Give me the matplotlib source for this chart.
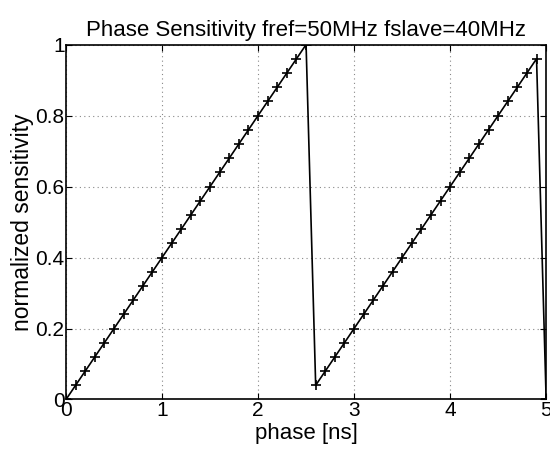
import matplotlib
matplotlib.use("Agg")
import matplotlib.pyplot as plt

# phase samples [ns] and normalized sensitivity
phase = [0.0, 0.1, 0.2, 0.3, 0.4, 0.5, 0.6, 0.7, 0.8, 0.9,
         1.0, 1.1, 1.2, 1.3, 1.4, 1.5, 1.6, 1.7, 1.8, 1.9,
         2.0, 2.1, 2.2, 2.3, 2.4, 2.5,
         2.6, 2.7, 2.8, 2.9, 3.0, 3.1, 3.2, 3.3, 3.4, 3.5,
         3.6, 3.7, 3.8, 3.9, 4.0, 4.1, 4.2, 4.3, 4.4, 4.5,
         4.6, 4.7, 4.8, 4.9, 5.0]
sens = [0.00, 0.04, 0.08, 0.12, 0.16, 0.20, 0.24, 0.28, 0.32, 0.36,
        0.40, 0.44, 0.48, 0.52, 0.56, 0.60, 0.64, 0.68, 0.72, 0.76,
        0.80, 0.84, 0.88, 0.92, 0.96, 1.00,
        0.04, 0.08, 0.12, 0.16, 0.20, 0.24, 0.28, 0.32, 0.36, 0.40,
        0.44, 0.48, 0.52, 0.56, 0.60, 0.64, 0.68, 0.72, 0.76, 0.80,
        0.84, 0.88, 0.92, 0.96, 0.00]

xticks = [0, 1, 2, 3, 4, 5]
yticks = [0, 0.2, 0.4, 0.6, 0.8, 1]
yticklabels = ["0", "0.2", "0.4", "0.6", "0.8", "1"]

plt.rcParams['font.family'] = ['Liberation Sans', 'DejaVu Sans']

fig = plt.figure(figsize=(5.5, 4.55), dpi=100)
ax = fig.add_axes([0.12, 0.122, 0.873, 0.78])

ax.plot(phase, sens, color='black', linewidth=1.2, marker='+',
        markersize=7, markeredgewidth=1.2)

ax.set_xlim(0, 5)
ax.set_ylim(0, 1)
ax.set_xticks(xticks)
ax.set_yticks(yticks)
ax.set_yticklabels(yticklabels)
ax.tick_params(direction='in', top=True, right=True, labelsize=15,
               length=4, pad=1)
ax.grid(True, linestyle=(0, (1, 3)), color='#888888', linewidth=0.8)
for s in ax.spines.values():
    s.set_linewidth(1.2)

ax.set_xlabel("phase [ns]", fontsize=16, labelpad=2)
ax.set_ylabel("normalized sensitivity", fontsize=16.5, labelpad=1)
ax.set_title("Phase Sensitivity fref=50MHz fslave=40MHz", fontsize=16, pad=6)

fig.savefig("out.png", dpi=100)
